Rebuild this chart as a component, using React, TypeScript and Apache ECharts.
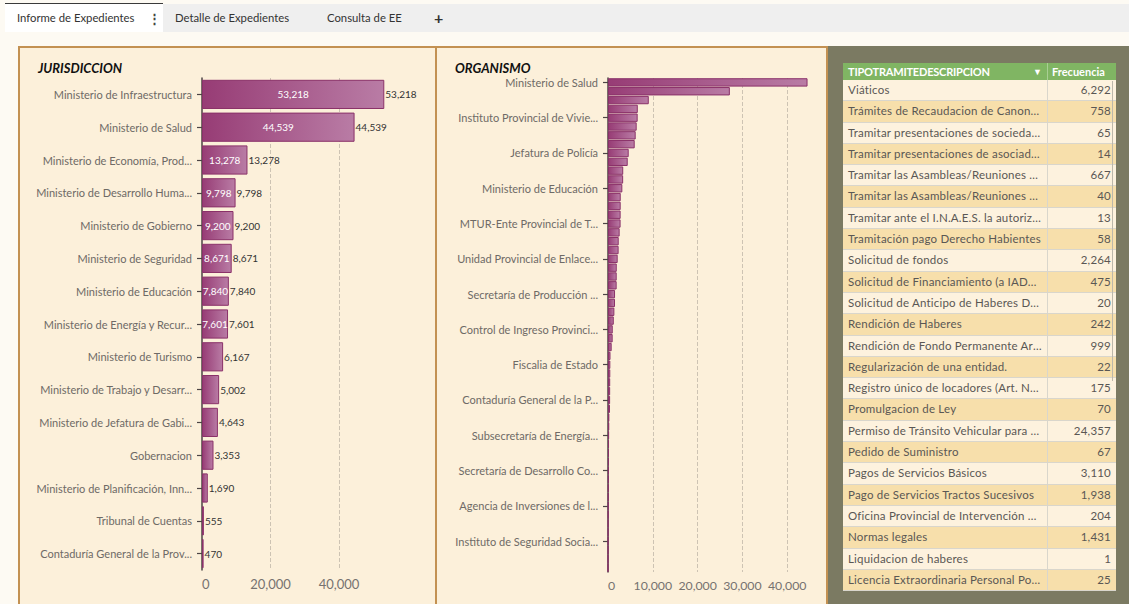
import React, { useEffect, useRef } from "react";
import * as echarts from "echarts";

// ---------- DATA ----------
const jurisdicciones = [
  "Ministerio de Infraestructura",
  "Ministerio de Salud",
  "Ministerio de Economía, Producción e Industria",
  "Ministerio de Desarrollo Humano",
  "Ministerio de Gobierno",
  "Ministerio de Seguridad",
  "Ministerio de Educación",
  "Ministerio de Energía y Recursos Naturales",
  "Ministerio de Turismo",
  "Ministerio de Trabajo y Desarrollo Laboral",
  "Ministerio de Jefatura de Gabinete",
  "Gobernacion",
  "Ministerio de Planificación, Innovación y Gestión",
  "Tribunal de Cuentas",
  "Contaduría General de la Provincia",
];
const jurisdiccionValores = [53218, 44539, 13278, 9798, 9200, 8671, 7840, 7601, 6167, 5002, 4643, 3353, 1690, 555, 470];

const organismos = [
  "Ministerio de Salud",
  "Ministerio de Infraestructura",
  "Ministerio de Economía, Producción e Industria",
  "Ministerio de Desarrollo Humano",
  "Instituto Provincial de Vivienda y Urbanismo",
  "Ministerio de Gobierno",
  "Dirección Provincial de Vialidad",
  "Dirección General de Rentas",
  "Jefatura de Policía",
  "Ministerio de Seguridad",
  "Ministerio de Energía y Recursos Naturales",
  "Ministerio de Turismo",
  "Ministerio de Educación",
  "Ministerio de Trabajo y Desarrollo Laboral",
  "Ministerio de Jefatura de Gabinete",
  "Secretaría General de la Gobernación",
  "MTUR-Ente Provincial de Turismo",
  "Dirección Provincial de Recursos Hídricos",
  "Consejo Provincial de Educación",
  "Subsecretaría de Salud",
  "Unidad Provincial de Enlace y Ejecución de Proyectos",
  "Subsecretaría de Hacienda",
  "Dirección Provincial de Catastro",
  "Subsecretaría de Desarrollo Humano",
  "Secretaría de Producción e Industria",
  "Servicio Penitenciario Provincial",
  "Subsecretaría de Trabajo",
  "Ministerio de Planificación, Innovación y Gestión",
  "Control de Ingreso Provincial de Personal",
  "Subsecretaría de Minería",
  "Dirección Provincial de Estadística",
  "Tribunal de Cuentas",
  "Fiscalia de Estado",
  "Subsecretaría de Ambiente",
  "Secretaría de Comunicación",
  "Registro de la Propiedad Inmueble",
  "Contaduría General de la Provincia",
  "Dirección Provincial de Personal",
  "Subsecretaría de Deportes",
  "Subsecretaría de Cultura",
  "Subsecretaría de Energía e Hidrocarburos",
  "Dirección de Bosques",
  "Subsecretaría de Agricultura",
  "Escribanía General de Gobierno",
  "Secretaría de Desarrollo Comunitario",
  "Dirección Provincial de Transporte",
  "Subsecretaría de Obras Públicas",
  "Dirección de Defensa Civil",
  "Agencia de Inversiones de la Provincia",
  "Subsecretaría de Planificación",
  "Registro Civil",
  "Dirección de Archivo General",
  "Instituto de Seguridad Social de la Provincia",
  "Subsecretaría de Innovación",
  "Secretaría de Modernización",
  "Dirección de Compras y Contrataciones",
];
const organismoValores = [
  44539, 27200, 9100, 6650, 6620, 6400, 6180, 5960,
  4620, 4400, 3400, 3380, 3200, 2840, 2830, 2820,
  2810, 2600, 2390, 2370, 2160, 1950, 1940, 1930,
  1570, 1560, 1420, 1290, 1060, 1040, 820, 555,
  520, 510, 490, 480, 470, 440, 300, 280,
  250, 230, 210, 190, 170, 150, 130, 110,
  95, 80, 65, 50, 40, 25, 15, 5,
];

const tramiteTipos = [
  "Viáticos",
  "Trámites de Recaudacion de Canones y Tasas",
  "Tramitar presentaciones de sociedades",
  "Tramitar presentaciones de asociado/as",
  "Tramitar las Asambleas/Reuniones Ordinarias",
  "Tramitar las Asambleas/Reuniones Extraordinarias",
  "Tramitar ante el I.N.A.E.S. la autorización",
  "Tramitación pago Derecho Habientes",
  "Solicitud de fondos",
  "Solicitud de Financiamiento (a IADEP)",
  "Solicitud de Anticipo de Haberes Devengados",
  "Rendición de Haberes",
  "Rendición de Fondo Permanente Artículo",
  "Regularización de una entidad.",
  "Registro único de locadores (Art. N° 4)",
  "Promulgacion de Ley",
  "Permiso de Tránsito Vehicular para transporte",
  "Pedido de Suministro",
  "Pagos de Servicios Básicos",
  "Pago de Servicios Tractos Sucesivos",
  "Oficina Provincial de Intervención en Conflictos",
  "Normas legales",
  "Liquidacion de haberes",
  "Licencia Extraordinaria Personal Policial",
];
const tramiteFrecuencias = [6292, 758, 65, 14, 667, 40, 13, 58, 2264, 475, 20, 242, 999, 22, 175, 70, 24357, 67, 3110, 1938, 204, 1431, 1, 25];

const tabs = ["Informe de Expedientes", "Detalle de Expedientes", "Consulta de EE"];

const jurisAxisMax = 55000;
const jurisAxisInterval = 20000;
const orgAxisMax = 45000;
const orgAxisInterval = 10000;

// ---------- STYLE ----------
const FONT = "Lato, 'Noto Sans', sans-serif";
const fmt = (n: number) => n.toLocaleString("en-US");
const PANEL_BG = "#fcf0da";
const PANEL_BORDER = "#c39152";

function barGradient() {
  return new echarts.graphic.LinearGradient(0, 0, 1, 0, [
    { offset: 0, color: "#973c75" },
    { offset: 1, color: "#b97ca5" },
  ]);
}

export default function App() {
  const ref = useRef<HTMLDivElement>(null);

  useEffect(() => {
    if (!ref.current) return;
    const chart = echarts.init(ref.current, undefined, { renderer: "svg" });
    const axisLineStyle = { color: "#4d4545", width: 1.5 };
    const catLabel = {
      color: "#6e6a66",
      fontSize: 11,
      fontFamily: FONT,
      overflow: "truncate",
      ellipsis: "...",
      margin: 10,
    };
    const valLabel = {
      color: "#767270",
      fontSize: 13,
      fontFamily: FONT,
      margin: 7,
      formatter: (v: number) => fmt(v),
      showMaxLabel: false,
      alignMinLabel: "left",
    };
    const split = {
      show: true,
      showMinLine: false,
      showMaxLine: false,
      lineStyle: { type: "dashed", color: "#cdc3b3", width: 1 },
    };
    chart.setOption({
      animation: false,
      backgroundColor: "transparent",
      title: [
        {
          text: "JURISDICCION",
          left: 33,
          top: 56,
          textStyle: { fontSize: 13, fontWeight: "bold", fontStyle: "italic", color: "#111", fontFamily: FONT },
        },
        {
          text: "ORGANISMO",
          left: 450,
          top: 56,
          textStyle: { fontSize: 13, fontWeight: "bold", fontStyle: "italic", color: "#111", fontFamily: FONT },
        },
      ],
      grid: [
        { left: 202, top: 78, width: 188.4, height: 492, containLabel: false },
        { left: 608, top: 78, width: 201.6, height: 494, containLabel: false },
      ],
      xAxis: [
        {
          type: "value",
          gridIndex: 0,
          min: 0,
          max: jurisAxisMax,
          interval: jurisAxisInterval,
          axisLine: { show: false },
          axisTick: { show: false },
          axisLabel: valLabel,
          splitLine: split,
        },
        {
          type: "value",
          gridIndex: 1,
          min: 0,
          max: orgAxisMax,
          interval: orgAxisInterval,
          axisLine: { show: false },
          axisTick: { show: false },
          axisLabel: { ...valLabel, fontSize: 12.3 },
          splitLine: split,
        },
      ],
      yAxis: [
        {
          type: "category",
          gridIndex: 0,
          inverse: true,
          data: jurisdicciones,
          axisLine: { show: true, lineStyle: axisLineStyle },
          axisTick: { show: true, alignWithLabel: true, length: 5, lineStyle: { color: "#4d4545", width: 1.2 } },
          axisLabel: { ...catLabel, width: 158 },
          splitLine: { show: false },
        },
        {
          type: "category",
          gridIndex: 1,
          inverse: true,
          data: organismos,
          axisLine: { show: true, lineStyle: axisLineStyle },
          axisTick: { show: true, alignWithLabel: true, interval: 3, length: 5, lineStyle: { color: "#4d4545", width: 1.2 } },
          axisLabel: { ...catLabel, width: 144, interval: 3 },
          splitLine: { show: false },
        },
      ],
      series: [
        {
          type: "bar",
          xAxisIndex: 0,
          yAxisIndex: 0,
          data: jurisdiccionValores,
          barCategoryGap: "11%",
          itemStyle: { color: barGradient(), borderColor: "#8a3169", borderWidth: 1 },
          label: {
            show: true,
            position: "inside",
            color: "#ffffff",
            fontSize: 10,
            fontFamily: FONT,
            formatter: (p: any) => (p.value >= 7000 ? fmt(p.value) : ""),
          },
          z: 3,
        },
        {
          type: "bar",
          xAxisIndex: 0,
          yAxisIndex: 0,
          data: jurisdiccionValores,
          barGap: "-100%",
          barCategoryGap: "11%",
          silent: true,
          itemStyle: { color: "rgba(0,0,0,0)" },
          label: {
            show: true,
            position: "right",
            distance: 1,
            color: "#333",
            fontSize: 10,
            fontFamily: FONT,
            formatter: (p: any) => fmt(p.value),
          },
          z: 2,
        },
        {
          type: "bar",
          xAxisIndex: 1,
          yAxisIndex: 1,
          data: organismoValores,
          barCategoryGap: "5%",
          itemStyle: { color: barGradient(), borderColor: "#8a3169", borderWidth: 1 },
        },
      ],
    });
    return () => chart.dispose();
  }, []);

  const rowH = 21.3;
  return (
    <div
      style={{
        position: "fixed",
        left: 0,
        top: 0,
        width: 1129,
        height: 604,
        overflow: "hidden",
        background: "#fdfaf3",
        fontFamily: FONT,
      }}
    >
      {/* Tab bar */}
      <div style={{ position: "absolute", left: 5, top: 4, right: 0, height: 28, background: "#efefef" }} />
      <div
        style={{
          position: "absolute",
          left: 5,
          top: 3,
          width: 158,
          height: 29,
          background: "#ffffff",
          borderTop: "1.5px solid #3a3a3a",
          boxSizing: "border-box",
        }}
      />
      <div style={{ position: "absolute", left: 17, top: 11, fontSize: 11.3, color: "#333" }}>{tabs[0]}</div>
      <div style={{ position: "absolute", left: 148, top: 10, fontSize: 13, color: "#444", fontWeight: "bold" }}>⋮</div>
      <div style={{ position: "absolute", left: 175, top: 11, fontSize: 11.3, color: "#333" }}>{tabs[1]}</div>
      <div style={{ position: "absolute", left: 327, top: 11, fontSize: 11.3, color: "#333" }}>{tabs[2]}</div>
      <div style={{ position: "absolute", left: 434, top: 8, fontSize: 16, color: "#333", fontWeight: "bold" }}>+</div>

      {/* Panels */}
      <div
        style={{
          position: "absolute",
          left: 18,
          top: 46,
          width: 420,
          height: 580,
          background: PANEL_BG,
          border: `2px solid ${PANEL_BORDER}`,
          boxSizing: "border-box",
        }}
      />
      <div
        style={{
          position: "absolute",
          left: 435,
          top: 46,
          width: 393,
          height: 580,
          background: PANEL_BG,
          border: `2px solid ${PANEL_BORDER}`,
          boxSizing: "border-box",
        }}
      />
      <div style={{ position: "absolute", left: 828, top: 46, width: 301, height: 580, background: "#7b7a62" }} />

      {/* Chart */}
      <div ref={ref} style={{ position: "absolute", left: 0, top: 0, width: 828, height: 604 }} />

      {/* Table */}
      <div style={{ position: "absolute", left: 843, top: 62.7, width: 273 }}>
        <div style={{ display: "flex", height: 17.3, background: "#80b563", color: "#fff", fontWeight: "bold", fontSize: 11 }}>
          <div
            style={{
              width: 205,
              flexShrink: 0,
              boxSizing: "border-box",
              padding: "0 5px",
              display: "flex",
              justifyContent: "space-between",
              alignItems: "center",
              borderRight: "1px solid #a9cf94",
            }}
          >
            <span style={{ letterSpacing: -0.2 }}>TIPOTRAMITEDESCRIPCION</span>
            <span style={{ fontSize: 9 }}>▼</span>
          </div>
          <div style={{ flex: 1, display: "flex", alignItems: "center", paddingLeft: 4 }}>Frecuencia</div>
        </div>
        {tramiteTipos.map((t, i) => (
          <div
            key={i}
            style={{
              display: "flex",
              height: rowH,
              boxSizing: "border-box",
              background: i % 2 === 0 ? "#fdf2de" : "#f7dfab",
              borderBottom: "1px solid #d9d6cc",
              color: "#5a5754",
              fontSize: 11.5,
              letterSpacing: 0.2,
            }}
          >
            <div
              style={{
                width: 205,
                flexShrink: 0,
                boxSizing: "border-box",
                padding: "0 5px",
                borderRight: "1px solid #d9d6cc",
                whiteSpace: "nowrap",
                overflow: "hidden",
                textOverflow: "ellipsis",
                lineHeight: `${rowH - 1}px`,
              }}
            >
              {t}
            </div>
            <div style={{ flex: 1, textAlign: "right", paddingRight: 5, lineHeight: `${rowH - 1}px` }}>
              {fmt(tramiteFrecuencias[i])}
            </div>
          </div>
        ))}
      </div>
      <div style={{ position: "absolute", left: 1112, top: 81, width: 1, height: 300, background: "#bdb8aa" }} />
    </div>
  );
}
